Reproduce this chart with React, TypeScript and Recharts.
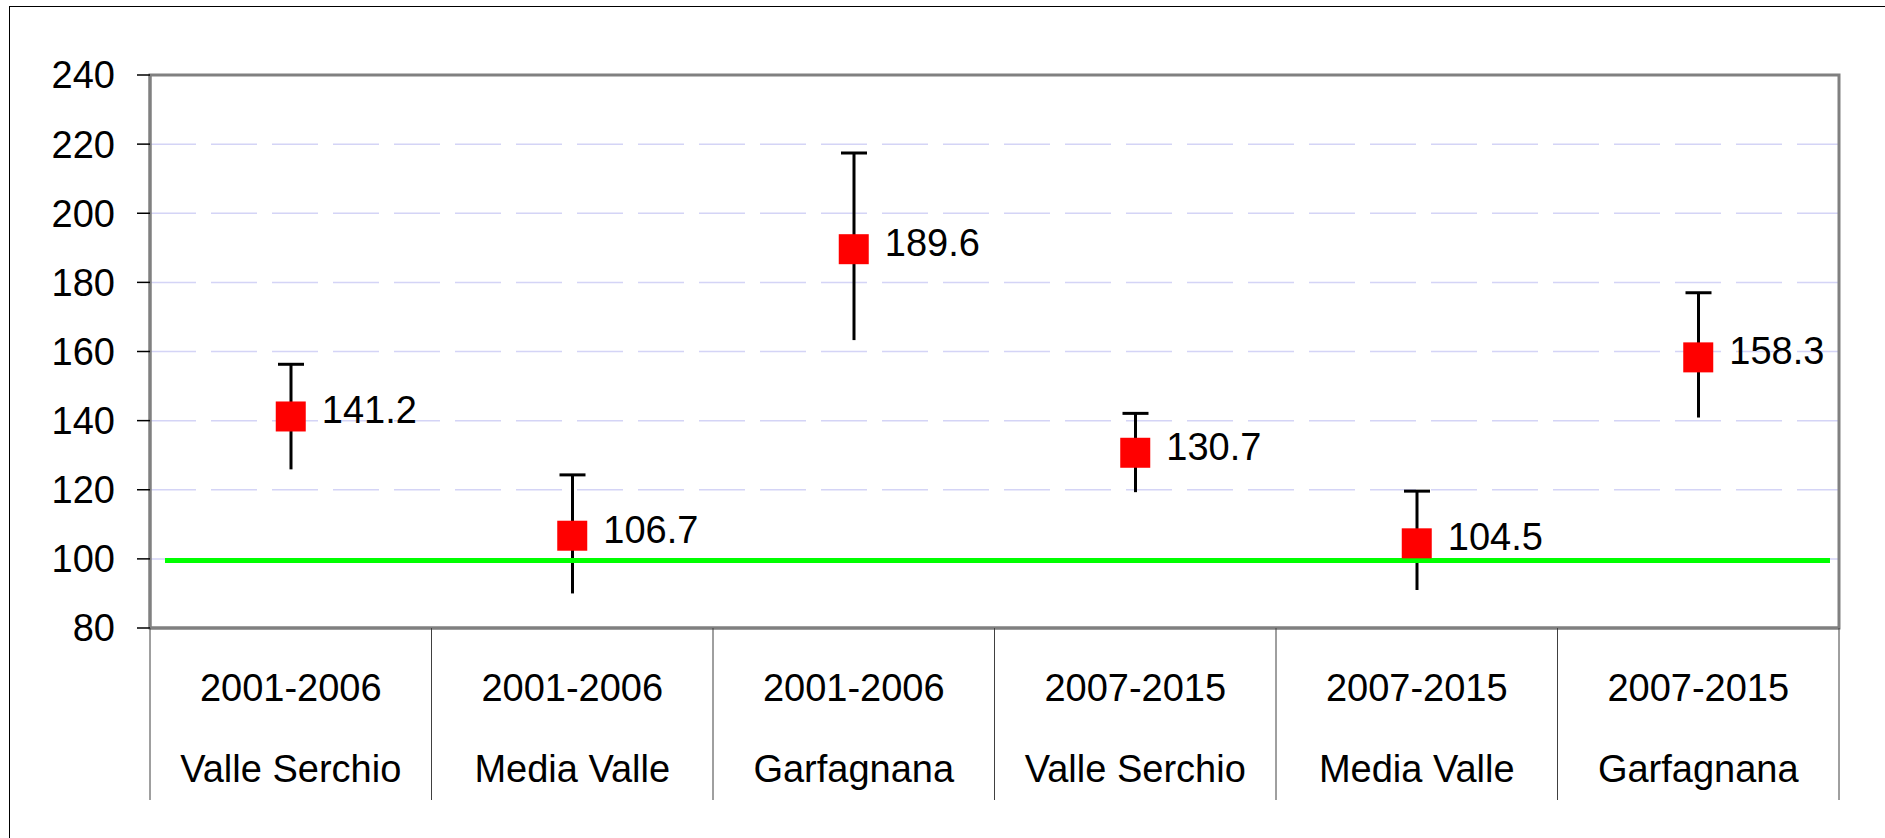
import React from 'react';
import {
  ComposedChart, Bar, Scatter, XAxis, YAxis, CartesianGrid, ReferenceLine, ReferenceArea,
} from 'recharts';

const PERIODS = ['2001-2006', '2001-2006', '2001-2006', '2007-2015', '2007-2015', '2007-2015'];
const AREAS = ['Valle Serchio', 'Media Valle', 'Garfagnana', 'Valle Serchio', 'Media Valle', 'Garfagnana'];
const VALUES = [141.2, 106.7, 189.6, 130.7, 104.5, 158.3];
const LOWER = [125.9, 90.0, 163.3, 119.3, 91.0, 140.9];
const UPPER = [156.3, 124.3, 217.4, 142.1, 119.6, 177.0];
const Y_TICKS = [80, 100, 120, 140, 160, 180, 200, 220, 240];
const REFERENCE = 100;

const data = PERIODS.map((p, i) => ({
  key: `${p}|${AREAS[i]}`,
  period: p,
  area: AREAS[i],
  value: VALUES[i],
  range: [LOWER[i], UPPER[i]],
}));

const W = 1885;
const H = 838;
const MARGIN = { top: 75, right: 46, bottom: 38, left: 0 };
const Y_AXIS_W = 150;
const X_AXIS_H = 172;
const PLOT_W = W - MARGIN.left - MARGIN.right - Y_AXIS_W;
const BAND = PLOT_W / data.length;
const FONT = '"Liberation Sans", Arial, sans-serif';
const FRAME = '#808080';

const CategoryTick = (props: any) => {
  const { x, y, index } = props;
  const d = data[index];
  const left = x - BAND / 2;
  const right = x + BAND / 2;
  return (
    <g>
      <line x1={left} y1={y} x2={left} y2={y + X_AXIS_H} stroke="#404040" strokeWidth={1} />
      {index === data.length - 1 && (
        <line x1={right} y1={y} x2={right} y2={y + X_AXIS_H} stroke="#404040" strokeWidth={1} />
      )}
      <text x={x} y={y + 60} textAnchor="middle" dominantBaseline="central" fontSize={38} fontFamily={FONT} fill="#000">
        {d ? d.period : ''}
      </text>
      <text x={x} y={y + 141} textAnchor="middle" dominantBaseline="central" fontSize={38} fontFamily={FONT} fill="#000">
        {d ? d.area : ''}
      </text>
    </g>
  );
};

// reference line, inset a little from the plot edges like the original
const GreenLine = (props: any) => {
  const { x1, y1, x2, y2 } = props;
  return <line x1={x1 + 15} y1={y1 + 1.5} x2={x2 - 9} y2={y2 + 1.5} stroke="#00ff00" strokeWidth={5} />;
};

const ErrorShape = (props: any) => {
  const { x, y, width, height } = props;
  const cx = x + width / 2;
  return (
    <g>
      <line x1={cx} y1={y} x2={cx} y2={y + height} stroke="#000" strokeWidth={3} />
      <line x1={x} y1={y} x2={x + width} y2={y} stroke="#000" strokeWidth={3} />
    </g>
  );
};

const PointShape = (props: any) => {
  const { cx, cy, payload } = props;
  return (
    <g>
      <rect x={cx - 15} y={cy - 15} width={30} height={30} fill="#ff0000" />
      <text x={cx + 31} y={cy - 6} dominantBaseline="central" fontSize={38} fontFamily={FONT} fill="#000">
        {payload.value.toFixed(1)}
      </text>
    </g>
  );
};

export default function App() {
  return (
    <div style={{ position: 'absolute', left: 0, top: 0, width: W, height: H, overflow: 'hidden', background: '#fff' }}>
      <div style={{ position: 'absolute', left: 9, top: 6, width: 4000, height: 4000, borderLeft: '1px solid #000', borderTop: '1px solid #000' }} />
      <div style={{ position: 'absolute', left: 0, top: 0 }}>
        <ComposedChart width={W} height={H} data={data} margin={MARGIN}>
          <CartesianGrid horizontal vertical={false} stroke="#d4d4f6" strokeWidth={1.5} strokeDasharray="46 15" />
          <ReferenceArea y1={80} y2={240} fill="none" stroke={FRAME} strokeWidth={3} />
          <XAxis
            dataKey="key"
            type="category"
            height={X_AXIS_H}
            interval={0}
            tickLine={false}
            tickSize={0}
            tickMargin={0}
            axisLine={{ stroke: FRAME, strokeWidth: 3 }}
            tick={<CategoryTick />}
          />
          <YAxis
            width={Y_AXIS_W}
            domain={[80, 240]}
            ticks={Y_TICKS}
            interval={0}
            allowDataOverflow
            tickSize={13}
            tickMargin={22}
            tickLine={{ stroke: '#000', strokeWidth: 1.5 }}
            axisLine={{ stroke: FRAME, strokeWidth: 3 }}
            tick={{ fontSize: 38, fontFamily: FONT, fill: '#000' }}
          />
          <ReferenceLine y={REFERENCE} shape={<GreenLine />} />
          <Bar dataKey="range" barSize={26} isAnimationActive={false} shape={<ErrorShape />} />
          <Scatter dataKey="value" isAnimationActive={false} shape={<PointShape />} />
        </ComposedChart>
      </div>
    </div>
  );
}
